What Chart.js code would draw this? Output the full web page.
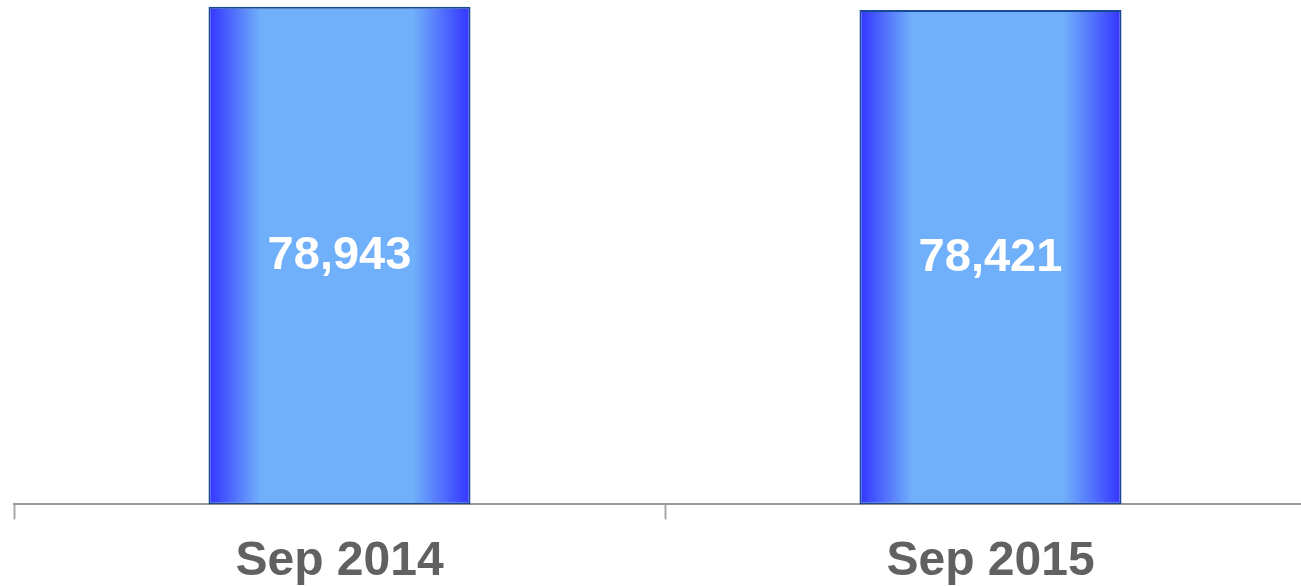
<!DOCTYPE html>
<html>
<head>
<meta charset="utf-8">
<script src="https://cdn.jsdelivr.net/npm/chart.js@4"></script>
<style>
  html, body { margin: 0; padding: 0; background: #fff; overflow: hidden; }
  #wrap { width: 1301px; height: 586px; overflow: hidden; }
</style>
</head>
<body>
<div id="wrap"><canvas id="barChart" width="1320" height="605"></canvas></div>
<script>
const months = ['Sep 2014', 'Sep 2015'];
const totals = [78943, 78421];
const yMax = 80000;

const BAR_PCT = 0.4025;

// horizontal shading for each bar: dark edges, light middle
function barFill(context) {
    const chart = context.chart;
    const xs = chart.scales.x;
    if (!chart.chartArea || !xs) return '#70b0fa';
    const cx = xs.getPixelForValue(context.dataIndex);
    const half = (xs.width / months.length) * BAR_PCT / 2;
    const g = chart.ctx.createLinearGradient(cx - half, 0, cx + half, 0);
    g.addColorStop(0, '#3333ff');
    g.addColorStop(0.2, '#70b0fa');
    g.addColorStop(0.78, '#70b0fa');
    g.addColorStop(1, '#3333ff');
    return g;
}

// value written in the middle of each bar
const valueLabels = {
    id: 'valueLabels',
    afterDatasetsDraw(chart) {
        const ctx = chart.ctx;
        const meta = chart.getDatasetMeta(0);
        ctx.save();
        ctx.fillStyle = '#ffffff';
        ctx.font = 'bold 47px "Liberation Sans", Arial, sans-serif';
        ctx.textAlign = 'center';
        ctx.textBaseline = 'middle';
        meta.data.forEach((bar, i) => {
            const mid = (bar.y + bar.base) / 2;
            ctx.fillText(totals[i].toLocaleString('en-US'), bar.x, mid + 1);
        });
        ctx.restore();
    }
};

const ctx = document.getElementById('barChart').getContext('2d');
const barChart = new Chart(ctx, {
    type: 'bar',
    data: {
        labels: months,
        datasets: [{
            data: totals,
            backgroundColor: barFill,
            borderColor: '#1a4a94',
            borderWidth: 2,
            borderSkipped: false,
            barPercentage: BAR_PCT,
            categoryPercentage: 1
        }]
    },
    options: {
        responsive: false,
        animation: false,
        devicePixelRatio: 1,
        layout: { padding: { left: 14, right: 4, top: 0, bottom: 0 } },
        plugins: {
            legend: { display: false },
            tooltip: { enabled: false },
            title: { display: false }
        },
        scales: {
            x: {
                border: { display: true, color: '#999999', width: 2 },
                grid: {
                    display: true,
                    drawOnChartArea: false,
                    drawTicks: true,
                    tickLength: 15,
                    tickColor: '#aaaaaa',
                    tickWidth: 2,
                    offset: true
                },
                ticks: {
                    color: '#616161',
                    padding: 14,
                    font: { size: 48, weight: 'bold', family: '"Liberation Sans", Arial, sans-serif' }
                }
            },
            y: {
                display: false,
                min: 0,
                max: yMax
            }
        }
    },
    plugins: [valueLabels]
});
</script>
</body>
</html>
